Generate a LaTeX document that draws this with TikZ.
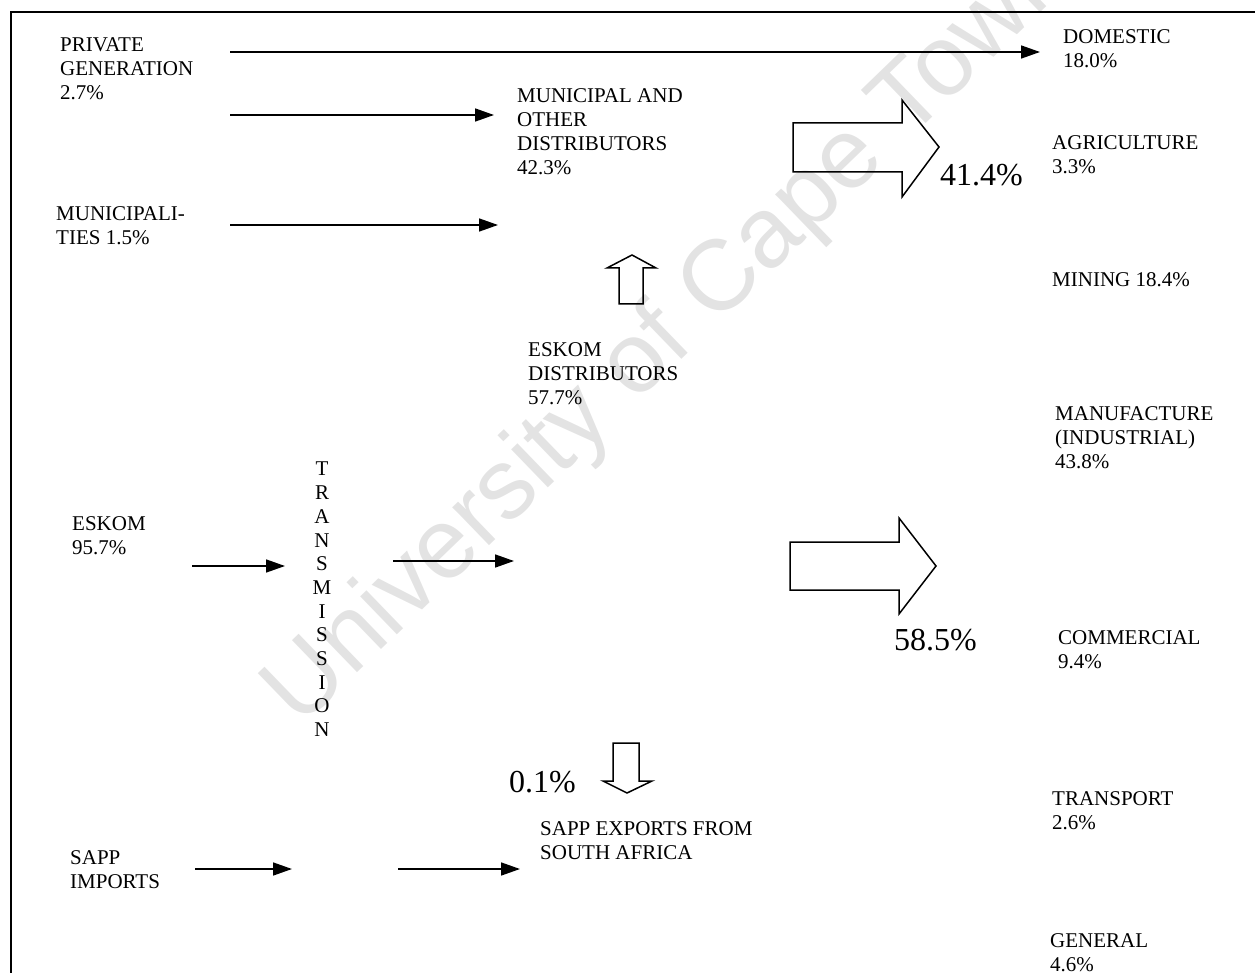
\documentclass[tikz,border=0pt]{standalone}
\usepackage{fontspec}
\setmainfont{Liberation Serif}
\newfontfamily\wmfont{Liberation Sans}
\usetikzlibrary{arrows.meta}
\tikzset{
  lbl/.style={anchor=north west, inner sep=0pt, align=left, font=\fontsize{21}{24}\selectfont},
  big/.style={anchor=west, inner sep=0pt, font=\fontsize{32}{36}\selectfont},
  flow/.style={line width=1.6pt, -{Triangle[length=19pt,width=13pt]}},
  blockarrow/.style={line width=1.5pt, line join=miter},
  frame/.style={line width=2pt}
}
\begin{document}
\begin{tikzpicture}[x=1pt,y=-1pt]
\useasboundingbox (0,0) rectangle (1255,973);
% watermark
\node[rotate=44, text=black!11, inner sep=0pt, font=\wmfont\fontsize{100}{100}\selectfont] (wm) at (670,335) {University of Cape Town};
% frame
\coordinate (f1) at (11,973);
\coordinate (f2) at (11,12);
\coordinate (f3) at (1255,12);
\draw[frame] (f1) -- (f2) -- (f3);

% left sources
\node[lbl] (priv) at (60,37) {PRIVATE\\GENERATION\\2.7\%};
\node[lbl] (muni) at (56,206) {MUNICIPALI-\\TIES 1.5\%};
\node[lbl] (eskom) at (72,516) {ESKOM\\95.7\%};
\node[lbl] (imp) at (70,850) {SAPP\\IMPORTS};
\node[anchor=north, inner sep=0pt, align=center, font=\fontsize{21}{23.7}\selectfont] (trans) at (322,462) {T\\R\\A\\N\\S\\M\\I\\S\\S\\I\\O\\N};

% middle
\node[lbl] (mdist) at (517,88) {MUNICIPAL AND\\OTHER\\DISTRIBUTORS\\42.3\%};
\node[lbl] (edist) at (528,342) {ESKOM\\DISTRIBUTORS\\57.7\%};
\node[lbl] (exp) at (540,821) {SAPP EXPORTS FROM\\SOUTH AFRICA};

% right sectors
\node[lbl] (dom) at (1063,29) {DOMESTIC\\18.0\%};
\node[lbl] (agr) at (1052,135) {AGRICULTURE\\3.3\%};
\node[lbl] (min) at (1052,272) {MINING 18.4\%};
\node[lbl] (man) at (1055,406) {MANUFACTURE\\(INDUSTRIAL)\\43.8\%};
\node[lbl] (com) at (1058,630) {COMMERCIAL\\9.4\%};
\node[lbl] (tra) at (1052,791) {TRANSPORT\\2.6\%};
\node[lbl] (gen) at (1050,933) {GENERAL\\4.6\%};

% big percentages
\node[big] (p414) at (940,175) {41.4\%};
\node[big] (p585) at (894,640) {58.5\%};
\node[big] (p01) at (509,782) {0.1\%};

% arrow end points
\coordinate (a1s) at (230,52);  \coordinate (a1e) at (1040,52);
\coordinate (a2s) at (230,115); \coordinate (a2e) at (494,115);
\coordinate (a3s) at (230,225); \coordinate (a3e) at (498,225);
\coordinate (a4s) at (192,566); \coordinate (a4e) at (285,566);
\coordinate (a5s) at (393,561); \coordinate (a5e) at (514,561);
\coordinate (a6s) at (195,869); \coordinate (a6e) at (292,869);
\coordinate (a7s) at (398,869); \coordinate (a7e) at (520,869);

\draw[flow] (a1s) -- (a1e);
\draw[flow] (a2s) -- (a2e);
\draw[flow] (a3s) -- (a3e);
\draw[flow] (a4s) -- (a4e);
\draw[flow] (a5s) -- (a5e);
\draw[flow] (a6s) -- (a6e);
\draw[flow] (a7s) -- (a7e);

% block arrows
\draw[blockarrow] (793,123) -- (902,123) -- (902,100) -- (939,147) -- (902,197) -- (902,172) -- (793,172) -- cycle;
\draw[blockarrow] (790,542) -- (899,542) -- (899,518) -- (936,566) -- (899,614) -- (899,590) -- (790,590) -- cycle;
\draw[blockarrow] (619,304) -- (619,268) -- (607,268) -- (632,255) -- (656,268) -- (643,268) -- (643,304) -- cycle;
\draw[blockarrow] (613,743) -- (639,743) -- (639,781) -- (652,781) -- (627,793) -- (603,781) -- (613,781) -- cycle;
\end{tikzpicture}
\end{document}
